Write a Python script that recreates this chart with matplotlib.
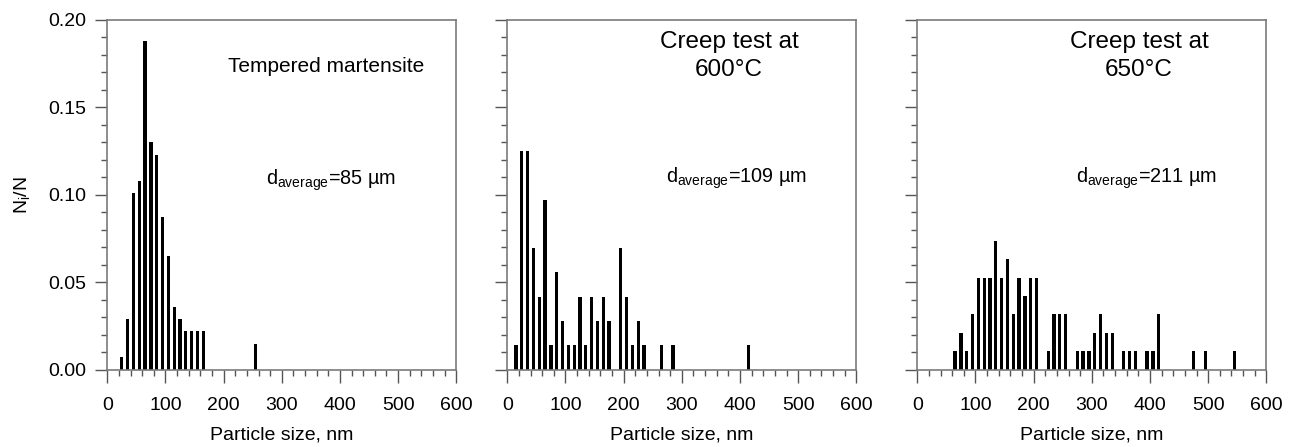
import matplotlib
matplotlib.use("Agg")
import matplotlib.pyplot as plt
from matplotlib.ticker import MultipleLocator

plt.rcParams['font.family'] = ['Liberation Sans', 'DejaVu Sans']
plt.rcParams['mathtext.fontset'] = 'custom'
plt.rcParams['mathtext.rm'] = 'Liberation Sans'

# particle size bins (nm, bar centres) and fractions N_i/N
size_tm = [25, 35, 45, 55, 65, 75, 85, 95, 105, 115, 125, 135, 145, 155, 165, 255]
frac_tm = [0.0073, 0.029, 0.101, 0.108, 0.188, 0.130, 0.123, 0.087, 0.065,
           0.036, 0.029, 0.022, 0.022, 0.022, 0.022, 0.0145]

size_600 = [15, 25, 35, 45, 55, 65, 75, 85, 95, 105, 115, 125, 135, 145, 155,
            165, 175, 195, 205, 215, 225, 235, 265, 285, 415]
frac_600 = [0.0139, 0.125, 0.125, 0.0694, 0.0417, 0.0972, 0.0139, 0.0556, 0.0278,
            0.0139, 0.0139, 0.0417, 0.0139, 0.0417, 0.0278, 0.0417, 0.0278,
            0.0694, 0.0417, 0.0139, 0.0278, 0.0139, 0.0139, 0.0139, 0.0139]

size_650 = [65, 75, 85, 95, 105, 115, 125, 135, 145, 155, 165, 175, 185, 195, 205,
            225, 235, 245, 255, 275, 285, 295, 305, 315, 325, 335, 355, 365, 375,
            395, 405, 415, 475, 495, 545]
frac_650 = [0.0105, 0.0211, 0.0105, 0.0316, 0.0526, 0.0526, 0.0526, 0.0737, 0.0526,
            0.0632, 0.0316, 0.0526, 0.0421, 0.0526, 0.0526, 0.0105, 0.0316, 0.0316,
            0.0316, 0.0105, 0.0105, 0.0105, 0.0211, 0.0316, 0.0211, 0.0211, 0.0105,
            0.0105, 0.0105, 0.0105, 0.0105, 0.0316, 0.0105, 0.0105, 0.0105]

avg_labels = ['d$_\\mathregular{average}$=85 \u00b5m',
              'd$_\\mathregular{average}$=109 \u00b5m',
              'd$_\\mathregular{average}$=211 \u00b5m']
titles = ['Tempered martensite', 'Creep test at\n600\u00b0C', 'Creep test at\n650\u00b0C']

W, H = 1296, 447
fig = plt.figure(figsize=(W / 100, H / 100), dpi=100)

lefts = [107.3, 507.3, 917.3]
panel_w = 349.0
top, bottom = 20.0, 369.5

data = [(size_tm, frac_tm), (size_600, frac_600), (size_650, frac_650)]
spine_col = '#7a7a7a'

for i, (x, y) in enumerate(data):
    ax = fig.add_axes([lefts[i] / W, (H - bottom) / H, panel_w / W, (bottom - top) / H])
    ax.bar(x, y, width=5.6, color='black', linewidth=0)
    ax.set_xlim(0, 600)
    ax.set_ylim(0, 0.20)
    ax.xaxis.set_major_locator(MultipleLocator(100))
    ax.xaxis.set_minor_locator(MultipleLocator(20))
    ax.yaxis.set_major_locator(MultipleLocator(0.05))
    ax.yaxis.set_minor_locator(MultipleLocator(0.01))
    ax.tick_params(which='major', direction='out', length=9, width=1, color='#555555',
                   labelsize=14, pad=11)
    ax.tick_params(which='minor', direction='out', length=4.5, width=1, color='#555555')
    ax.tick_params(axis='y', which='major', pad=6)
    for s in ax.spines.values():
        s.set_color(spine_col)
        s.set_linewidth(1.2)
    ax.set_xticks([0, 100, 200, 300, 400, 500, 600])
    ax.set_xticklabels(['0', '100', '200', '300', '400', '500', '600'])
    ax.set_xlabel('Particle size, nm', fontsize=14, labelpad=9)
    if i == 0:
        ax.set_yticks([0, 0.05, 0.10, 0.15, 0.20])
        ax.set_yticklabels(['0.00', '0.05', '0.10', '0.15', '0.20'])
        ax.set_ylabel('N$_\\mathregular{i}$/N', fontsize=14, labelpad=11)
        ax.text(0.627, 0.868, titles[i], transform=ax.transAxes, ha='center',
                va='center', fontsize=15)
        ax.text(0.455, 0.542, avg_labels[i], transform=ax.transAxes, ha='left',
                va='center', fontsize=14.3)
    else:
        ax.set_yticklabels([])
        ax.text(0.635, 0.897, titles[i], transform=ax.transAxes, ha='center',
                va='center', fontsize=17.5, linespacing=1.3)
        ax.text(0.455, 0.548, avg_labels[i], transform=ax.transAxes, ha='left',
                va='center', fontsize=14.3)

fig.savefig('out.png', dpi=100, facecolor='white')
